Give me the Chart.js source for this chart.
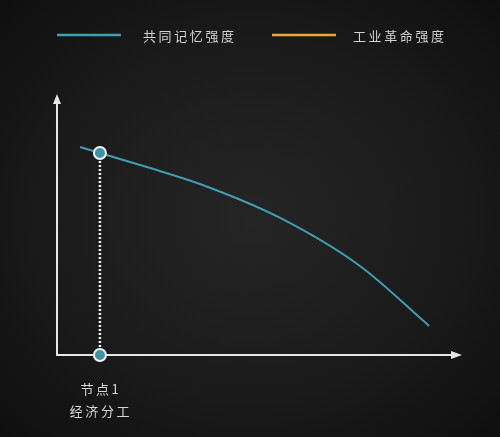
<!DOCTYPE html>
<html>
<head>
<meta charset="utf-8">
<script src="https://cdn.jsdelivr.net/npm/chart.js@4"></script>
<style>
  html, body { margin: 0; padding: 0; }
  body {
    width: 500px; height: 437px; overflow: hidden;
    background: radial-gradient(ellipse 70% 70% at 50% 50%, #252525 0%, #1b1b1b 55%, #0f0f10 100%);
  }
  #chartBox { width: 500px; height: 437px; }
</style>
</head>
<body>
<div id="chartBox"><canvas id="lineChart" width="500" height="437"></canvas></div>
<script>
// Data (x and y on a 0-100 scale)
const memoryX = [5.7, 10.6, 22.2, 35.3, 55.1, 74.8, 91.9];
const memoryY = [79.7, 77.4, 72.0, 65.5, 52.5, 34.1, 11.1];
const industryX = [];
const industryY = [];
const seriesNames = ['共同记忆强度', '工业革命强度'];
const seriesColors = ['#3e9fb3', '#e9aa2f'];
const nodeX = 10.6;
const nodeY = 77.4;
const nodeLabels = ['节点1', '经济分工'];

const toPoints = (xs, ys) => xs.map((x, i) => ({ x: x, y: ys[i] }));

// axes with arrow heads, drawn under the datasets
const arrowAxes = {
    id: 'arrowAxes',
    beforeDatasetsDraw(chart) {
        const c = chart.ctx;
        const xs = chart.scales.x, ys = chart.scales.y;
        const x0 = xs.getPixelForValue(0), y0 = ys.getPixelForValue(0);
        const xEnd = xs.getPixelForValue(100), yEnd = ys.getPixelForValue(100);
        c.save();
        c.strokeStyle = '#e6e6e6';
        c.fillStyle = '#e6e6e6';
        c.lineWidth = 2;
        c.beginPath();
        c.moveTo(x0, y0);
        c.lineTo(x0, yEnd + 6);
        c.moveTo(x0 - 1, y0);
        c.lineTo(xEnd - 6, y0);
        c.stroke();
        // y arrow
        c.beginPath();
        c.moveTo(x0, yEnd);
        c.lineTo(x0 - 4, yEnd + 10);
        c.lineTo(x0 + 4, yEnd + 10);
        c.closePath();
        c.fill();
        // x arrow
        c.beginPath();
        c.moveTo(xEnd, y0);
        c.lineTo(xEnd - 11, y0 - 4);
        c.lineTo(xEnd - 11, y0 + 4);
        c.closePath();
        c.fill();
        c.restore();
    }
};

// legend and node labels
const textBits = {
    id: 'textBits',
    afterDraw(chart) {
        const c = chart.ctx;
        c.save();
        c.font = '13px "Noto Sans CJK SC", sans-serif';
        c.letterSpacing = '2.6px';
        c.textBaseline = 'middle';
        c.fillStyle = '#d2d2d2';
        const legendPos = [[57, 143], [272, 353]];
        seriesNames.forEach((name, i) => {
            const [lx, tx] = legendPos[i];
            c.strokeStyle = seriesColors[i];
            c.lineWidth = 2.5;
            c.beginPath();
            c.moveTo(lx, 35);
            c.lineTo(lx + 64, 35);
            c.stroke();
            c.textAlign = 'left';
            c.fillText(name, tx, 36);
        });
        const px = chart.scales.x.getPixelForValue(nodeX);
        const py = chart.scales.y.getPixelForValue(0);
        c.textAlign = 'center';
        c.fillStyle = '#d6d6d6';
        nodeLabels.forEach((t, i) => {
            c.fillText(t, px + 1, py + 34 + i * 22);
        });
        c.restore();
    }
};

const ctx = document.getElementById('lineChart').getContext('2d');

const lineChart = new Chart(ctx, {
    type: 'line',
    data: {
        datasets: [
            {
                // node marker + dotted drop line
                label: 'node',
                data: [{ x: nodeX, y: nodeY }, { x: nodeX, y: 0 }],
                borderColor: '#f4f4f4',
                borderWidth: 2.5,
                borderDash: [2, 2],
                pointRadius: 6,
                pointBorderWidth: 2,
                pointBackgroundColor: '#3a93a8',
                pointBorderColor: '#f2f2f2',
                clip: false,
                order: 0
            },
            {
                label: seriesNames[0],
                data: toPoints(memoryX, memoryY),
                borderColor: seriesColors[0],
                borderWidth: 2,
                pointRadius: 0,
                cubicInterpolationMode: 'monotone',
                order: 1
            },
            {
                label: seriesNames[1],
                data: toPoints(industryX, industryY),
                borderColor: seriesColors[1],
                borderWidth: 2,
                pointRadius: 0,
                order: 2
            }
        ]
    },
    options: {
        responsive: false,
        animation: false,
        layout: { padding: { left: 57, right: 38, top: 94, bottom: 82 } },
        plugins: {
            legend: { display: false },
            tooltip: { enabled: false }
        },
        scales: {
            x: { type: 'linear', min: 0, max: 100, display: false },
            y: { min: 0, max: 100, display: false }
        }
    },
    plugins: [arrowAxes, textBits]
});
</script>
</body>
</html>
